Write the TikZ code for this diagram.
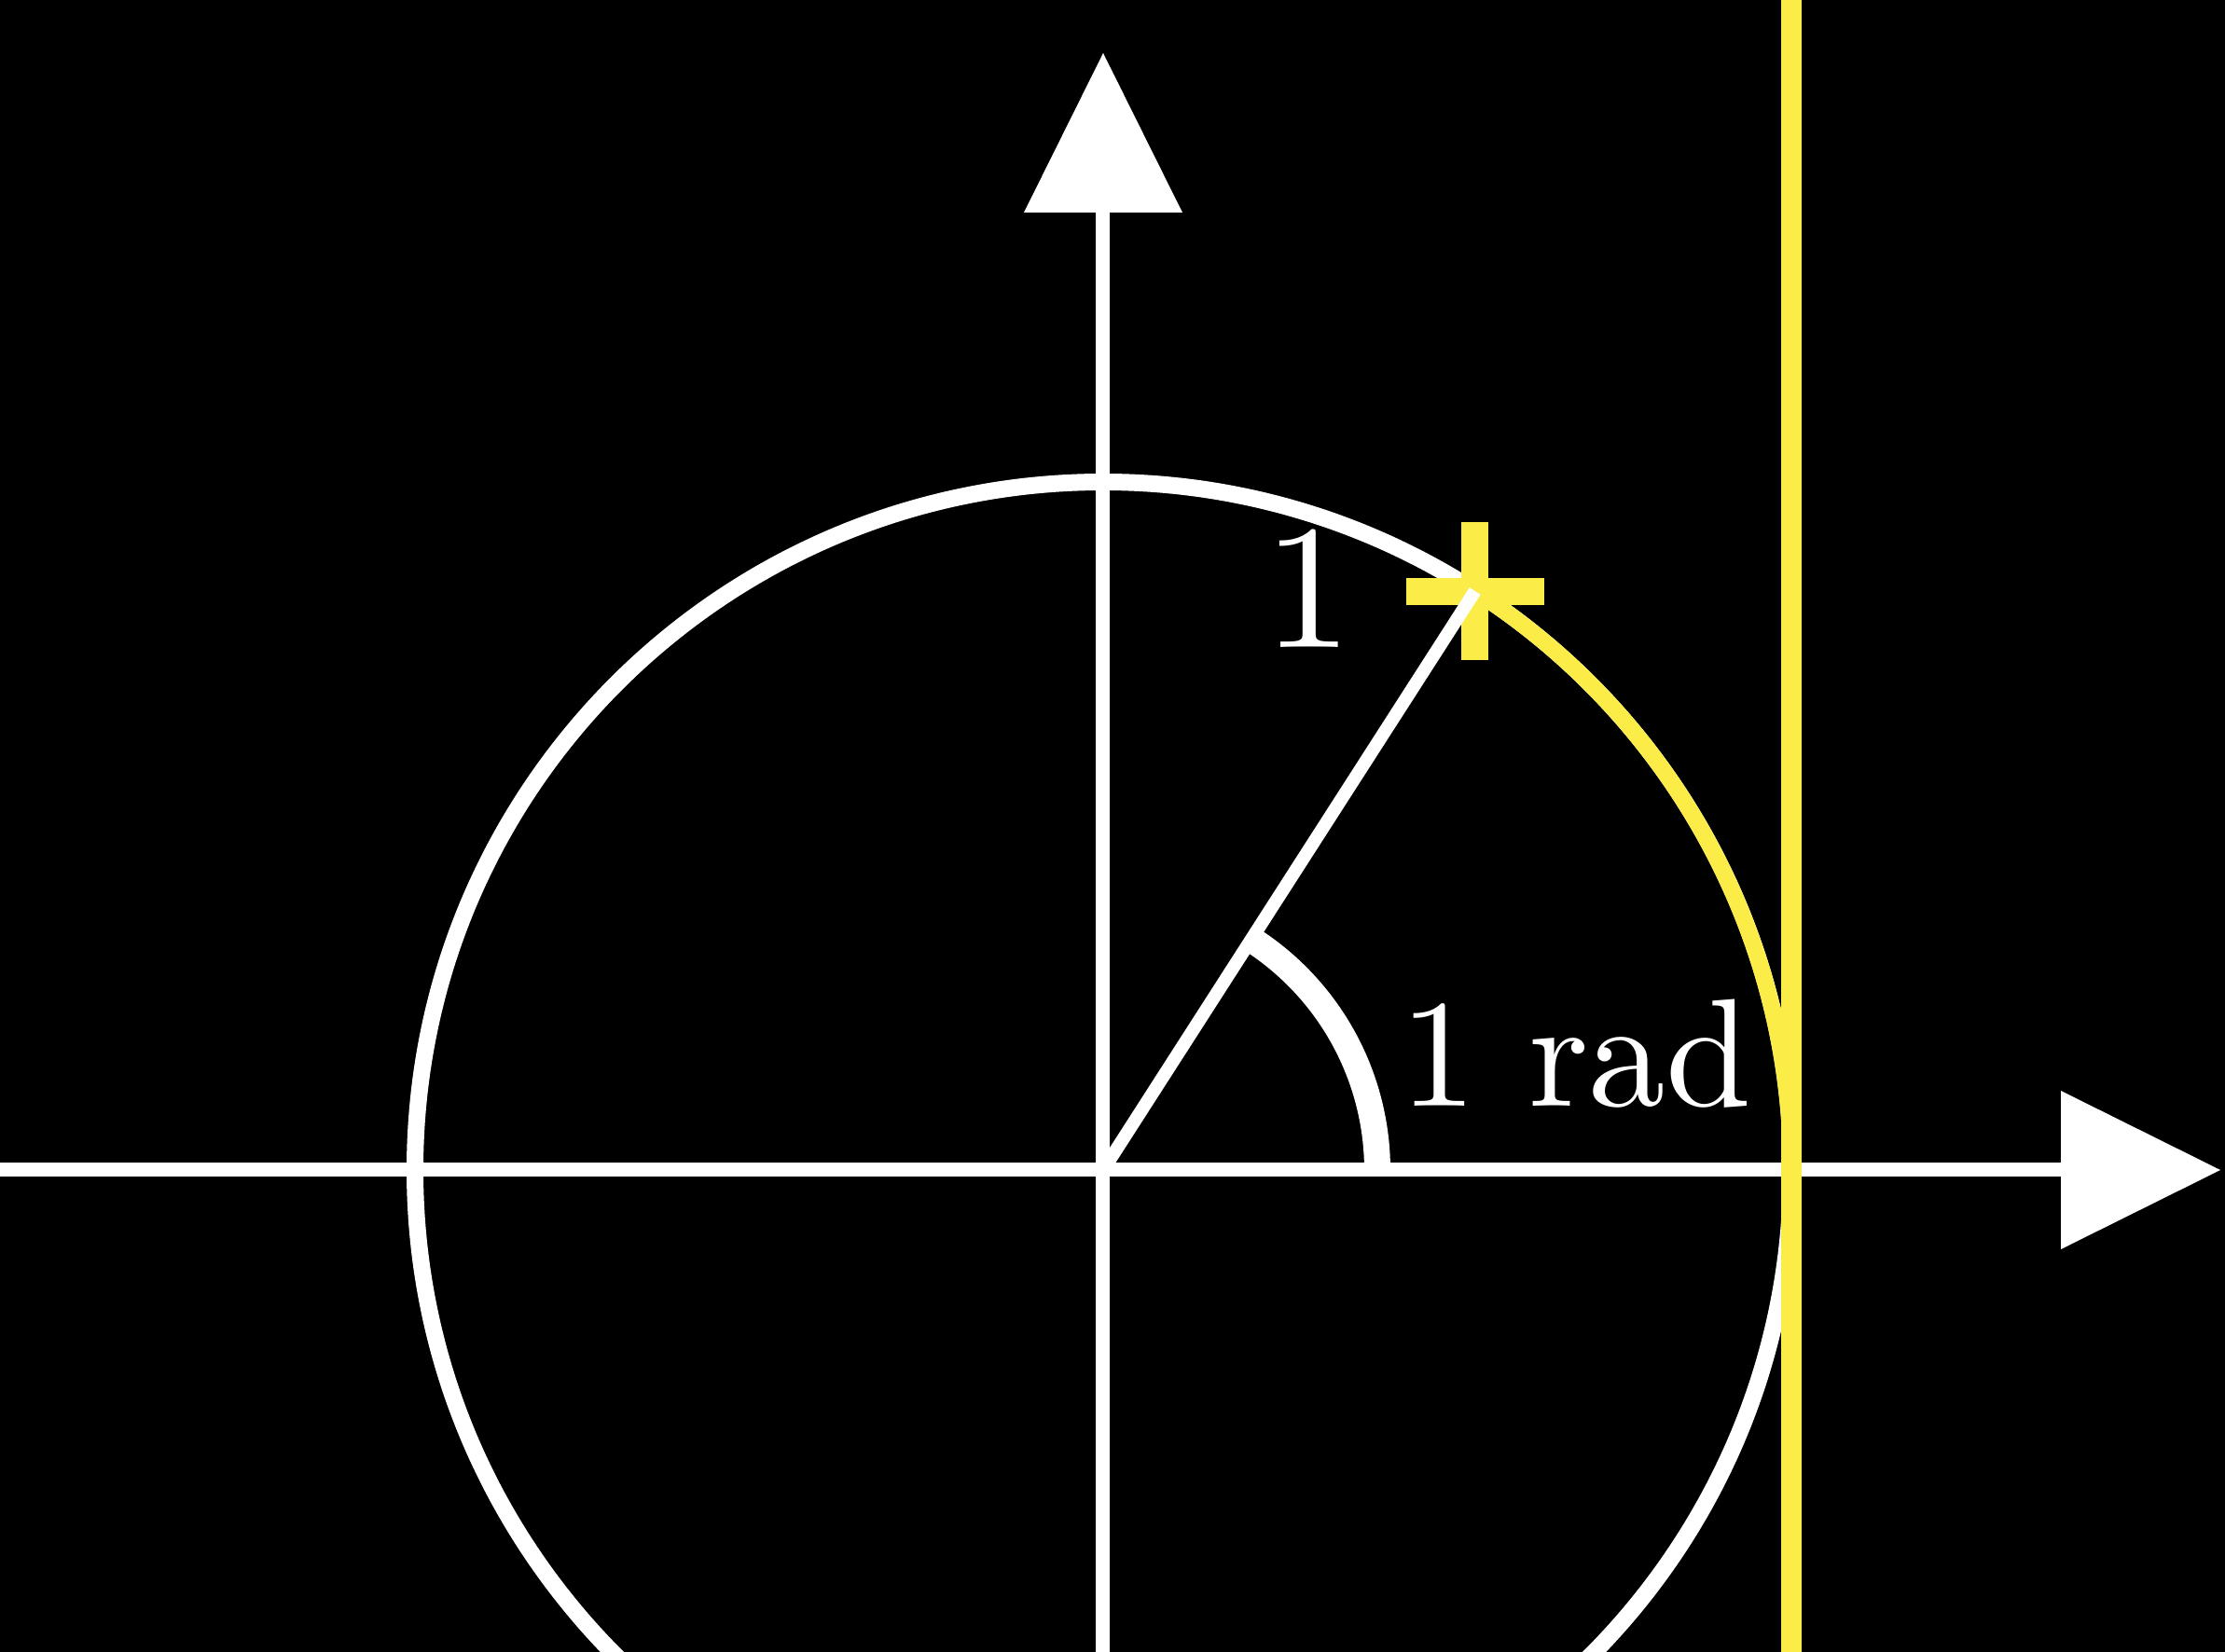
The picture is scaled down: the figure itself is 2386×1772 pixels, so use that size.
\documentclass[tikz,border=0pt]{standalone}
\usepackage{fontspec}
\setmainfont{lmroman10-regular.otf}
\usetikzlibrary{arrows.meta,calc}
\definecolor{myyellow}{RGB}{252,236,72}
\tikzset{
  axisline/.style={draw=white, line width=15pt, -{Triangle[length=171pt,width=170pt,line width=0pt]}},
  circleline/.style={draw=white, line width=18pt},
  arcyellow/.style={draw=myyellow, line width=18pt},
  tangentline/.style={draw=myyellow, line width=22pt},
  anglearc/.style={draw=white, line width=28pt},
  radiusline/.style={draw=white, line width=14pt},
  lbl/.style={text=white, inner sep=0pt, outer sep=0pt}
}
\begin{document}
\begin{tikzpicture}[x=1pt,y=1pt]
\fill[black] (-1183,-517) rectangle (1203,1255);
\useasboundingbox (-1183,-517) rectangle (1203,1255);
\coordinate (O) at (0,0);
\coordinate (xL) at (-1183,0);
\coordinate (xR) at (1198,0);
\coordinate (yB) at (0,-517);
\coordinate (yT) at (0,1198);
\coordinate (P) at (57.2958:738);
\coordinate (A) at (738,0);
\coordinate (tB) at (738,-517);
\coordinate (tT) at (738,1255);
\coordinate (S) at (294,0);
% axes
\draw[axisline] (xL) -- (xR);
\draw[axisline] (yB) -- (yT);
% unit circle
\draw[circleline] (O) circle[radius=738];
% arc of length 1
\draw[arcyellow] (A) arc[start angle=0, end angle=57.2958, radius=738];
% tangent line x = 1
\draw[tangentline] (tB) -- (tT);
% angle mark
\draw[anglearc] (S) arc[start angle=0, end angle=57.2958, radius=294];
% plus marker
\fill[myyellow] ($(P)+(-74,-14.5)$) rectangle ($(P)+(74,14.5)$);
\fill[myyellow] ($(P)+(-14.5,-74)$) rectangle ($(P)+(14.5,74)$);
% radius
\draw[radiusline] (O) -- (P);
% labels
\node[lbl, anchor=base] (one) at (220,560) {\fontsize{190}{190}\selectfont 1};
\node[lbl, anchor=base] (rad) at (507,68) {\fontsize{165}{165}\selectfont 1 rad};
\end{tikzpicture}
\end{document}
